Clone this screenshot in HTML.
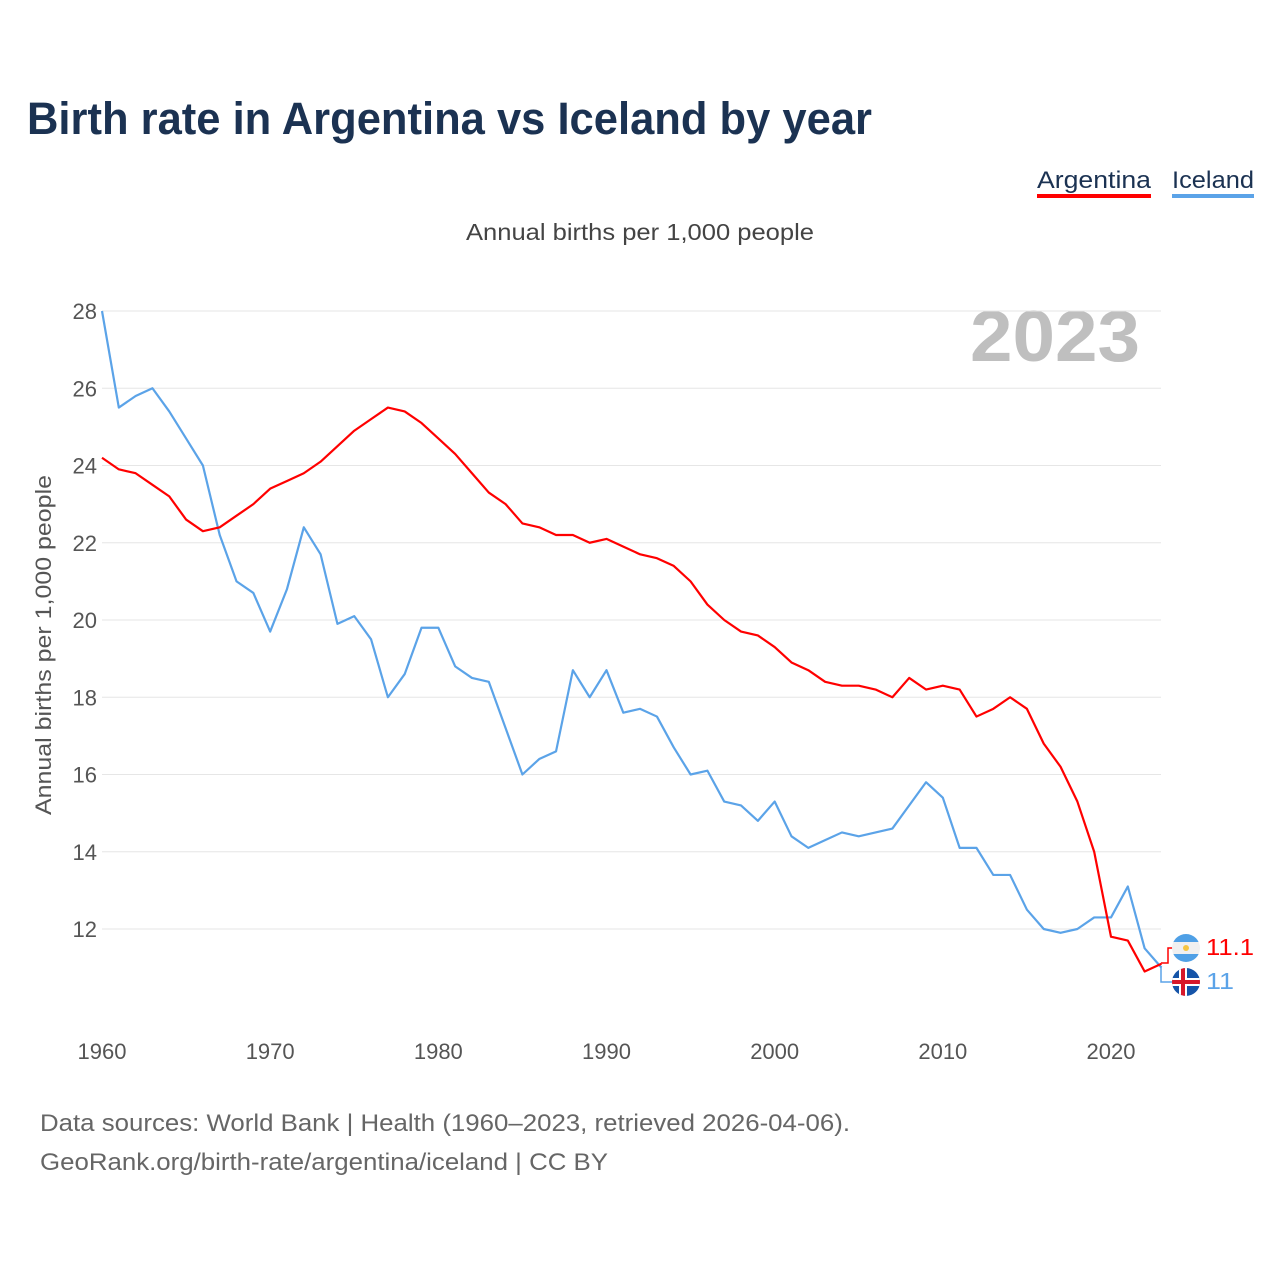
<!DOCTYPE html>
<html><head><meta charset="utf-8"><style>
body{margin:0;width:1280px;height:1280px;background:#fff;font-family:"Liberation Sans",sans-serif;overflow:hidden}
</style></head><body>
<svg id="c" width="1280" height="1280" xmlns="http://www.w3.org/2000/svg">
<text x="27" y="134" font-size="45" font-weight="bold" fill="#1b3252" textLength="845" lengthAdjust="spacingAndGlyphs">Birth rate in Argentina vs Iceland by year</text>
<g><text x="1037" y="188" font-size="24" fill="#1b3252" textLength="114" lengthAdjust="spacingAndGlyphs">Argentina</text><rect x="1037" y="194" width="114" height="4" fill="#f00"/></g>
<g><text x="1172" y="188" font-size="24" fill="#1b3252" textLength="82" lengthAdjust="spacingAndGlyphs">Iceland</text><rect x="1172" y="194" width="82" height="4" fill="#5ba3e8"/></g>
<text x="466" y="240" font-size="23" fill="#444" textLength="348" lengthAdjust="spacingAndGlyphs">Annual births per 1,000 people</text>
<text x="970" y="361" font-size="72" font-weight="bold" fill="#bfbfbf" textLength="170" lengthAdjust="spacingAndGlyphs">2023</text>
<text transform="translate(51,815) rotate(-90)" font-size="22" fill="#555" textLength="340" lengthAdjust="spacingAndGlyphs">Annual births per 1,000 people</text>
<g id="grid"></g><g id="lines"></g>
<g>
<polyline points="1161,963 1168,963 1168,948 1174,948" fill="none" stroke="#f00" stroke-width="1.5"/>
<polyline points="1161,966 1161,982 1174,982" fill="none" stroke="#5ba3e8" stroke-width="1.5"/>
<g><clipPath id="ca"><circle cx="1186" cy="948" r="14"/></clipPath><g clip-path="url(#ca)"><rect x="1170" y="932" width="32" height="32" fill="#f0f0f0"/><rect x="1170" y="932" width="32" height="10" fill="#4fa0e6"/><rect x="1170" y="954" width="32" height="10" fill="#4fa0e6"/><circle cx="1186" cy="948" r="3" fill="#f5c542"/></g></g>
<g><clipPath id="ci"><circle cx="1186" cy="982" r="14"/></clipPath><g clip-path="url(#ci)"><rect x="1170" y="966" width="32" height="32" fill="#1554a8"/><rect x="1170" y="978" width="32" height="8" fill="#fff"/><rect x="1179" y="966" width="8" height="32" fill="#fff"/><rect x="1170" y="980" width="32" height="4" fill="#d7182a"/><rect x="1181" y="966" width="4" height="32" fill="#d7182a"/></g></g>
<text x="1206" y="955" font-size="23" fill="#f00" textLength="48" lengthAdjust="spacingAndGlyphs">11.1</text>
<text x="1206" y="989" font-size="23" fill="#5ba3e8" textLength="28" lengthAdjust="spacingAndGlyphs">11</text>
</g>
<text x="40" y="1131" font-size="24" fill="#666" textLength="810" lengthAdjust="spacingAndGlyphs">Data sources: World Bank | Health (1960–2023, retrieved 2026-04-06).</text>
<text x="40" y="1170" font-size="24" fill="#666" textLength="568" lengthAdjust="spacingAndGlyphs">GeoRank.org/birth-rate/argentina/iceland | CC BY</text>
</svg>
<script>
const years=[];for(let y=1960;y<=2023;y++)years.push(y);
const argentina=[24.2,23.9,23.8,23.5,23.2,22.6,22.3,22.4,22.7,23.0,23.4,23.6,23.8,24.1,24.5,24.9,25.2,25.5,25.4,25.1,24.7,24.3,23.8,23.3,23.0,22.5,22.4,22.2,22.2,22.0,22.1,21.9,21.7,21.6,21.4,21.0,20.4,20.0,19.7,19.6,19.3,18.9,18.7,18.4,18.3,18.3,18.2,18.0,18.5,18.2,18.3,18.2,17.5,17.7,18.0,17.7,16.8,16.2,15.3,14.0,11.8,11.7,10.9,11.1];
const iceland=[28.0,25.5,25.8,26.0,25.4,24.7,24.0,22.2,21.0,20.7,19.7,20.8,22.4,21.7,19.9,20.1,19.5,18.0,18.6,19.8,19.8,18.8,18.5,18.4,17.2,16.0,16.4,16.6,18.7,18.0,18.7,17.6,17.7,17.5,16.7,16.0,16.1,15.3,15.2,14.8,15.3,14.4,14.1,14.3,14.5,14.4,14.5,14.6,15.2,15.8,15.4,14.1,14.1,13.4,13.4,12.5,12.0,11.9,12.0,12.3,12.3,13.1,11.5,11.0];
const yTicks=[12,14,16,18,20,22,24,26,28];
const xTicks=[1960,1970,1980,1990,2000,2010,2020];
const X=v=>102+(v-1960)*(1111-102)/60;
const Y=v=>311+(28-v)*38.625;
const NS="http://www.w3.org/2000/svg";
const grid=document.getElementById('grid'),lines=document.getElementById('lines');
function mk(t,a,p){const e=document.createElementNS(NS,t);for(const k in a)e.setAttribute(k,a[k]);p.appendChild(e);return e;}
yTicks.forEach(t=>{
 const l=mk('line',{x1:102,x2:1161,y1:Y(t),y2:Y(t),stroke:'#e6e6e6','stroke-width':1},grid);
 
 
 const tx=mk('text',{x:97,y:Y(t)+8,'font-size':22,fill:'#555','text-anchor':'end'},grid);tx.textContent=t;
 
 
});
xTicks.forEach(t=>{
 const tx=mk('text',{x:X(t),y:1059,'font-size':22,fill:'#555','text-anchor':'middle'},grid);tx.textContent=t;
 
 
});
function line(d,c,n){
 const p=mk('polyline',{points:d.map((v,i)=>X(years[i])+','+Y(v)).join(' '),fill:'none',stroke:c,'stroke-width':2.2,'stroke-linejoin':'round'},lines);
 
 
}
line(iceland,'#5ba3e8','iceland-line');
line(argentina,'#f00','argentina-line');
</script>
</body></html>
